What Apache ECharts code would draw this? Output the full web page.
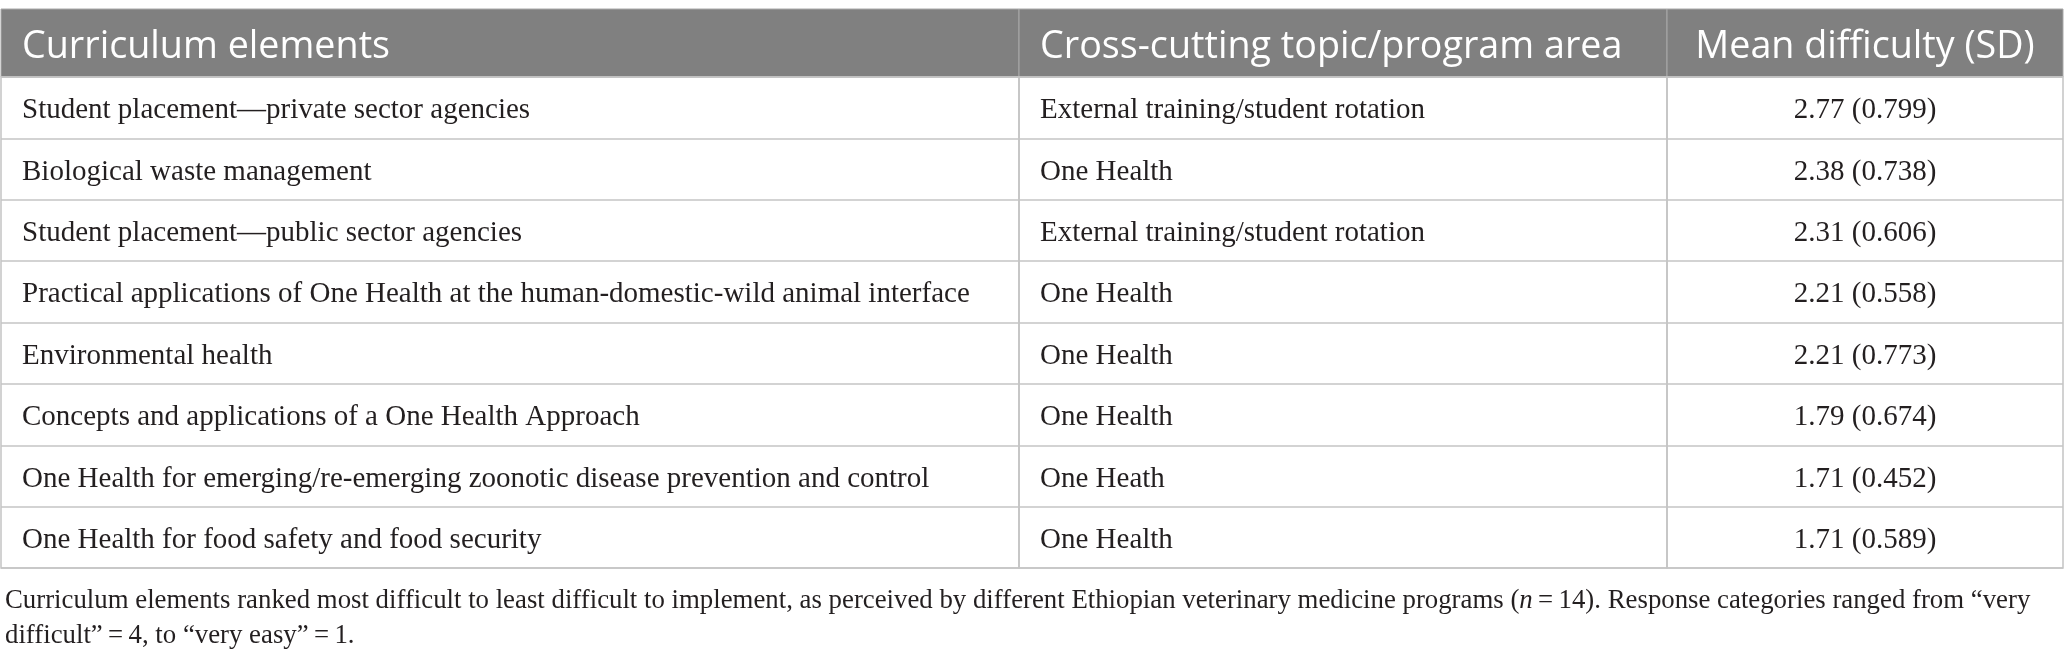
<!DOCTYPE html>
<html><head><meta charset="utf-8">
<script src="https://cdn.jsdelivr.net/npm/echarts@6/dist/echarts.min.js"></script>
<style>html,body{margin:0;padding:0;background:#fff}#c{width:2067px;height:662px}</style>
</head><body><div id="c"></div>
<script>
const headers = ['Curriculum elements', 'Cross-cutting topic/program area', 'Mean difficulty (SD)'];
const elements = [
  'Student placement\u2014private sector agencies',
  'Biological waste management',
  'Student placement\u2014public sector agencies',
  'Practical applications of One Health at the human-domestic-wild animal interface',
  'Environmental health',
  'Concepts and applications of a One Health Approach',
  'One Health for emerging/re-emerging zoonotic disease prevention and control',
  'One Health for food safety and food security'
];
const areas = [
  'External training/student rotation',
  'One Health',
  'External training/student rotation',
  'One Health',
  'One Health',
  'One Health',
  'One Heath',
  'One Health'
];
const means = [2.77, 2.38, 2.31, 2.21, 2.21, 1.79, 1.71, 1.71];
const sds = [0.799, 0.738, 0.606, 0.558, 0.773, 0.674, 0.452, 0.589];
const footnote = 'Curriculum elements ranked most difficult to least difficult to implement, as perceived by different Ethiopian veterinary medicine programs ({i|n}\u2009=\u200914). Response categories ranged from \u201cvery\ndifficult\u201d\u2009=\u20094, to \u201cvery easy\u201d\u2009=\u20091.';

const colText = [
  elements,
  areas,
  means.map((m, i) => m.toFixed(2) + ' (' + sds[i].toFixed(3) + ')')
];
const colAlign = ['left', 'left', 'center'];

const colLeft = [1, 1019, 1667];
const colWidth = [1018, 648, 396];
const headTop = 9, headH = 68, bodyTop = 77, bodyH = 491;
const PAD = 21;
const SERIF = '"Liberation Serif", "Times New Roman", serif';
const SANS = '"Open Sans", "Noto Sans", sans-serif';
const BODY_SIZE = 29, HEAD_SIZE = 37.7, FOOT_SIZE = 26.8;
const HEAD_DY = 4, BODY_DY = 3;
const LINE = '#c4c4c4';

const grid = [], xAxis = [], yAxis = [], series = [];
for (let c = 0; c < 3; c++) {
  grid.push({left: colLeft[c], top: headTop, width: colWidth[c], height: headH,
    show: true, backgroundColor: '#808080', borderColor: '#a9a9a9', borderWidth: 1});
  xAxis.push({type: 'category', gridIndex: c, data: [headers[c]], show: false});
  yAxis.push({type: 'category', gridIndex: c, data: ['h'], show: false});
}
for (let c = 0; c < 3; c++) {
  const g = 3 + c;
  grid.push({left: colLeft[c], top: bodyTop, width: colWidth[c], height: bodyH,
    show: true, borderColor: LINE, borderWidth: 1.5});
  xAxis.push({type: 'category', gridIndex: g, data: ['c'], show: false});
  yAxis.push({type: 'category', gridIndex: g, data: elements, inverse: true,
    axisLabel: {show: false}, axisTick: {show: false}, axisLine: {show: false},
    splitLine: {show: true, lineStyle: {color: LINE, width: 1.5}}});
}

function makeRender(texts, align, font, fill, dy) {
  return function (params, api) {
    const p = api.coord([api.value(0), api.value(1)]);
    const s = api.size([1, 1]);
    const x = align === 'left' ? p[0] - s[0] / 2 + PAD : p[0];
    return {type: 'text', style: {text: texts[params.dataIndex], x: x, y: p[1] + dy,
      align: align, verticalAlign: 'middle', font: font, fill: fill}};
  };
}

for (let c = 0; c < 3; c++) {
  series.push({type: 'custom', xAxisIndex: c, yAxisIndex: c, silent: true,
    data: [[0, 0]],
    renderItem: makeRender([headers[c]], colAlign[c], HEAD_SIZE + 'px ' + SANS, '#ffffff', HEAD_DY)});
  series.push({type: 'custom', xAxisIndex: 3 + c, yAxisIndex: 3 + c, silent: true,
    data: elements.map((_, i) => [0, i]),
    renderItem: makeRender(colText[c], colAlign[c], BODY_SIZE + 'px ' + SERIF, '#231f20', BODY_DY)});
}

const chart = echarts.init(document.getElementById('c'));
chart.setOption({
  animation: false,
  backgroundColor: '#ffffff',
  title: {text: footnote, left: 0, top: 578,
    textStyle: {fontFamily: SERIF, fontSize: FOOT_SIZE, fontWeight: 'normal', color: '#231f20', lineHeight: 35,
      rich: {i: {fontFamily: SERIF, fontSize: FOOT_SIZE, fontStyle: 'italic', color: '#231f20', lineHeight: 35}}}},
  grid: grid, xAxis: xAxis, yAxis: yAxis, series: series
});
</script></body></html>
